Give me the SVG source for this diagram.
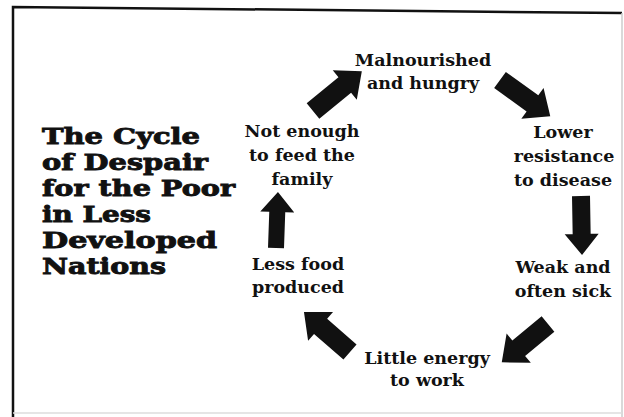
<svg xmlns="http://www.w3.org/2000/svg" width="624" height="417" viewBox="0 0 624 417">
<style>
.title{font-family:"DejaVu Serif",serif;font-weight:900;font-size:23px;fill:#111;stroke:#111;stroke-width:0.9;lengthAdjust:spacingAndGlyphs}
.lbl{font-family:"DejaVu Serif",serif;font-weight:bold;font-size:17.5px;fill:#111;text-anchor:middle}
.arr{fill:#111}
</style>
<rect width="624" height="417" fill="#fff"/>
<g id="frame" fill="none">
<polyline points="13,417 13,7 622,13" stroke="#111" stroke-width="2.5"/>
<line x1="622" y1="13" x2="622" y2="417" stroke="#ccc" stroke-width="1.5"/>
<line x1="13" y1="413" x2="622" y2="413" stroke="#ddd" stroke-width="1.5"/>
</g>
<g id="title">
<text class="title" x="42" y="144" textLength="158" lengthAdjust="spacingAndGlyphs">The Cycle</text>
<text class="title" x="42" y="170" textLength="166" lengthAdjust="spacingAndGlyphs">of Despair</text>
<text class="title" x="42" y="196" textLength="193" lengthAdjust="spacingAndGlyphs">for the Poor</text>
<text class="title" x="42" y="222" textLength="109" lengthAdjust="spacingAndGlyphs">in Less</text>
<text class="title" x="42" y="248" textLength="175" lengthAdjust="spacingAndGlyphs">Developed</text>
<text class="title" x="42" y="274" textLength="124" lengthAdjust="spacingAndGlyphs">Nations</text>
</g>
<g id="n1"><text class="lbl" x="423" y="66">Malnourished</text><text class="lbl" x="423" y="89">and hungry</text></g>
<g id="n2"><text class="lbl" x="563" y="138">Lower</text><text class="lbl" x="564" y="162">resistance</text><text class="lbl" x="563" y="186">to disease</text></g>
<g id="n3"><text class="lbl" x="563" y="273">Weak and</text><text class="lbl" x="563" y="297">often sick</text></g>
<g id="n4"><text class="lbl" x="427" y="364">Little energy</text><text class="lbl" x="427" y="386">to work</text></g>
<g id="n5"><text class="lbl" x="298" y="270">Less food</text><text class="lbl" x="298" y="293">produced</text></g>
<g id="n6"><text class="lbl" x="302" y="137">Not enough</text><text class="lbl" x="302" y="161">to feed the</text><text class="lbl" x="302" y="185">family</text></g>
<g id="connectors" class="arr">
<path transform="translate(313,111) rotate(-39.2)" d="M0,-10 L41,-10 L41,-19 L63,0 L41,19 L41,10 L0,10 Z"/>
<path transform="translate(500,80) rotate(35.8)" d="M0,-10 L40,-10 L40,-19 L62,0 L40,19 L40,10 L0,10 Z"/>
<path transform="translate(581,196) rotate(89)" d="M0,-9 L38,-9 L38,-17 L59,0 L38,17 L38,9 L0,9 Z"/>
<path transform="translate(548,324) rotate(140.4)" d="M0,-10 L38,-10 L38,-19 L60,0 L38,19 L38,10 L0,10 Z"/>
<path transform="translate(350,352) rotate(-139)" d="M0,-10 L39,-10 L39,-19 L61,0 L39,19 L39,10 L0,10 Z"/>
<path transform="translate(276,248) rotate(-88)" d="M0,-8 L36,-8 L36,-17 L56,0 L36,17 L36,8 L0,8 Z"/>
</g>
</svg>
